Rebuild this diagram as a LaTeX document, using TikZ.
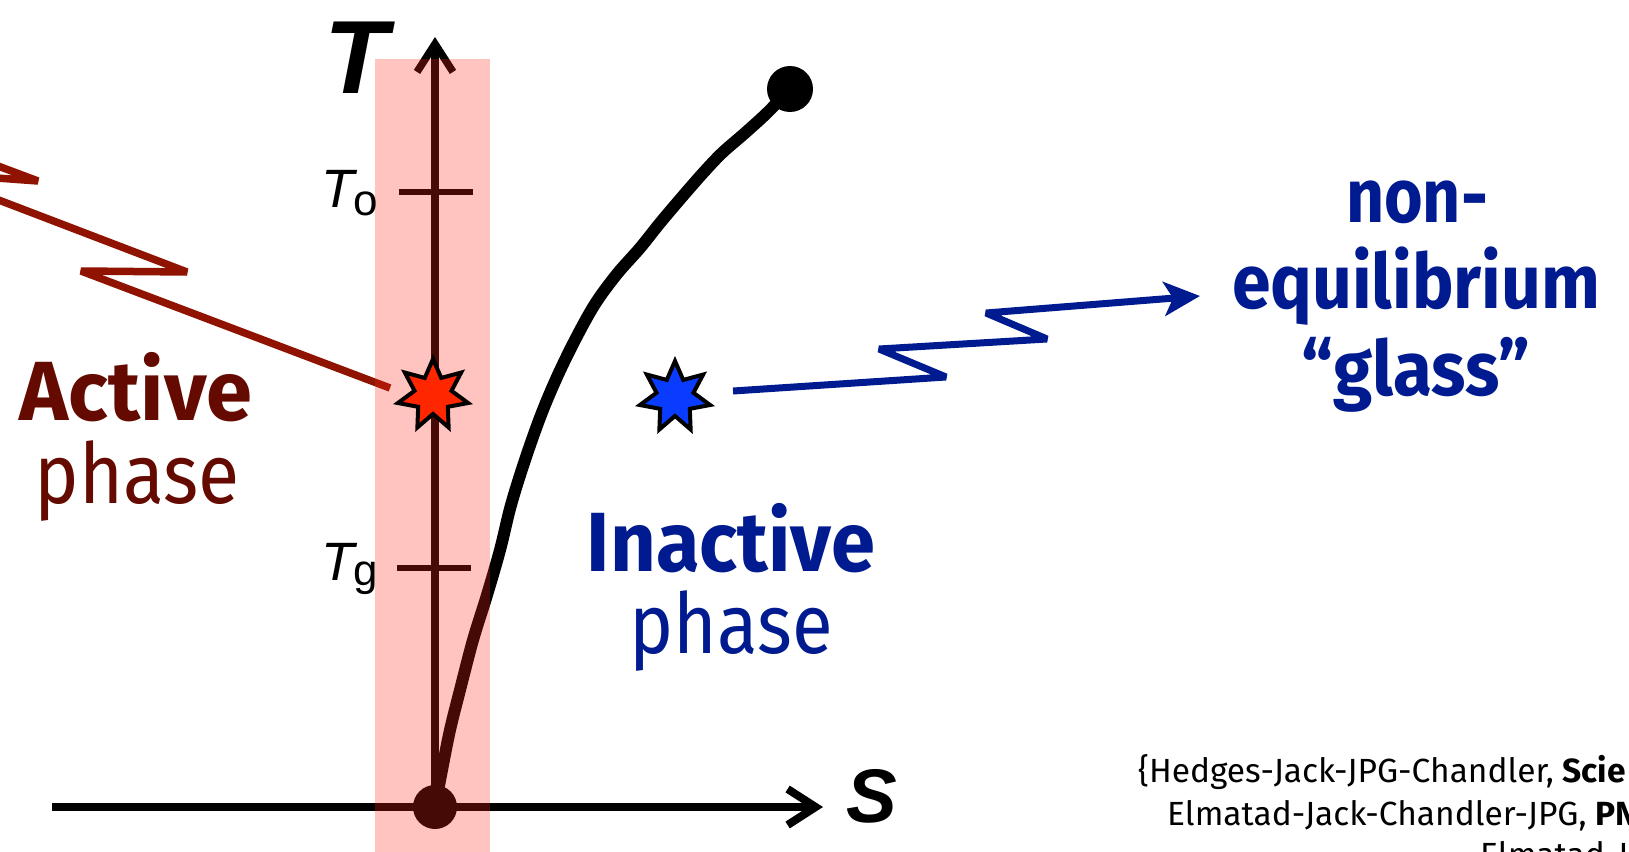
\documentclass[tikz,border=0pt]{standalone}
\usepackage{fontspec}
\setmainfont{Fira Sans}
\newfontfamily\lib{Liberation Sans}
\usetikzlibrary{arrows.meta,shapes.geometric}
\definecolor{actred}{RGB}{100,10,0}
\definecolor{zigred}{RGB}{143,19,0}
\definecolor{inblue}{RGB}{0,26,143}
\definecolor{starred}{RGB}{255,38,0}
\definecolor{starblue}{RGB}{10,60,255}
\definecolor{bandred}{RGB}{255,37,19}
\newcommand{\fitw}[2]{\resizebox{#1}{\height}{#2}}
\tikzset{
  axisarrow/.style={line width=8pt,-{Straight Barb[length=28pt,width=36pt]}},
  tickmark/.style={line width=5.5pt},
  curveline/.style={line width=12pt},
  dotnode/.style={circle,fill=black,inner sep=0pt,minimum size=#1},
  starnode/.style={star,star points=7,star point ratio=1.9,minimum size=72pt,inner sep=0pt,draw=black,line width=4pt,line join=miter},
  zigline/.style={line width=7.5pt,line join=bevel},
  bigtxt/.style={inner sep=0pt,anchor=base,font=\fontsize{84}{84}\selectfont},
  boldtxt/.style={inner sep=0pt,anchor=base,font=\bfseries\fontsize{84}{84}\selectfont},
  glasstxt/.style={inner sep=0pt,anchor=base,text=inblue,font=\bfseries\fontsize{76}{76}\selectfont},
  labtxt/.style={inner sep=0pt,anchor=base west},
  citetxt/.style={inner sep=0pt,anchor=base west,font=\fontsize{33.5}{33.5}\selectfont},
}
\begin{document}
\begin{tikzpicture}[x=1pt,y=-1pt]
\path[use as bounding box] (0,0) rectangle (1629,851);
% nodes
\node[dotnode=44pt] (origin) at (435,807) {};
\node[dotnode=46pt] (topdot) at (790,89) {};
\coordinate (sstart) at (52,807);
\coordinate (stip) at (823,807);
\coordinate (ttip) at (435,37);
% axes
\draw[axisarrow] (sstart) -- (stip);
\draw[axisarrow,line width=7.5pt] (origin.center) -- (ttip);
% ticks
\draw[tickmark] (399,192) -- (473,192);
\draw[tickmark] (397,568) -- (471,568);
% curve
\draw[curveline] plot[smooth,tension=0.55] coordinates {(origin.center) (442,770) (450,730) (460,690) (473,640) (487,595) (500,550) (511,505) (525,460) (541,415) (557,377) (575,340) (595,304) (617,274) (640,248) (660,223) (682,197) (703,173) (722,153) (745,133) (768,112) (topdot.center)};
% red zigzag
\coordinate (redend) at (390,388);
\draw[zigline,color=zigred] (redend) -- (81,271) -- (187,272) -- (-72,173) -- (38,181) -- (-300,54);
% shaded band
\fill[bandred,opacity=0.27] (375,59) rectangle (490,860);
% stars
\node[starnode,fill=starred] (rstar) at (433,395) {};
\node[starnode,fill=starblue] (bstar) at (675,397) {};
% blue zigzag arrow
\coordinate (blueend) at (733,391);
\coordinate (bluetip) at (1200,296);
\draw[zigline,line width=7pt,color=inblue,-{Stealth[length=36pt,width=34pt,inset=9pt]}] (blueend) -- (946,377) -- (879,349) -- (1047,339) -- (986,313) -- (bluetip);
% axis labels
\node[inner sep=0pt,anchor=base,font=\lib\bfseries\itshape\fontsize{104}{104}\selectfont] (tlab) at (356,93) {T};
\node[inner sep=0pt,anchor=base,font=\lib\bfseries\itshape\fontsize{76}{76}\selectfont] (slab) at (872,822) {S};
\node[labtxt,font=\lib\itshape\fontsize{54}{54}\selectfont] (tolab) at (321,207) {T};
\node[labtxt,font=\lib\fontsize{44}{44}\selectfont] (tosub) at (353,215) {o};
\node[labtxt,font=\lib\itshape\fontsize{54}{54}\selectfont] (tglab) at (321,580) {T};
\node[labtxt,font=\lib\fontsize{44}{44}\selectfont] (tgsub) at (353,585) {g};
% phase labels
\node[boldtxt,text=actred] (active) at (136,420) {\fitw{232pt}{Active}};
\node[bigtxt,text=actred] (actphase) at (137,503) {\fitw{205pt}{phase}};
\node[boldtxt,text=inblue] (inactive) at (731,571) {\fitw{288pt}{Inactive}};
\node[bigtxt,text=inblue] (inphase) at (731,653) {\fitw{203pt}{phase}};
\node[glasstxt] (non) at (1417,222) {\fitw{142pt}{non-}};
\node[glasstxt] (equil) at (1416,308) {\fitw{368pt}{equilibrium}};
\node[glasstxt] (glass) at (1416,395) {\fitw{229pt}{“glass”}};
% citation
\node[citetxt] (cite1) at (1138,782) {\{Hedges-Jack-JPG-Chandler, \textbf{Scie}};
\node[citetxt] (cite2) at (1167,825) {Elmatad-Jack-Chandler-JPG, \textbf{PN}};
\node[citetxt] (cite3) at (1480,866) {Elmatad-J};
\end{tikzpicture}
\end{document}
